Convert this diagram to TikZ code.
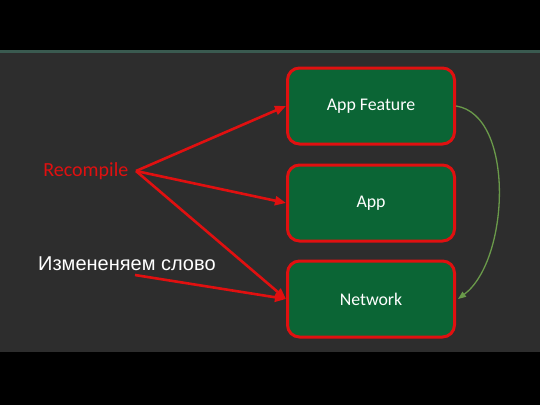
\documentclass[tikz,border=0pt]{standalone}
\usepackage{fontspec}
\setmainfont{Carlito}
\newfontfamily\arialfont{Liberation Sans}
\usetikzlibrary{arrows.meta}
\definecolor{panelgray}{HTML}{2D2D2D}
\definecolor{boxgreen}{HTML}{0B6535}
\definecolor{boxred}{HTML}{E01010}
\definecolor{linegreen}{HTML}{6A9A4A}
\definecolor{tealline}{HTML}{3A5A50}
\tikzset{
  box/.style={draw=boxred, line width=3pt, fill=boxgreen, rounded corners=12pt,
    minimum width=167pt, minimum height=76pt, text=white, font=\fontsize{17.8}{20}\selectfont},
  redarrow/.style={draw=boxred, line width=2.6pt, -{Triangle[length=11pt,width=9pt]}},
  greenarrow/.style={draw=linegreen, line width=1.3pt, -{Triangle[length=8pt,width=6pt]}}
}
\begin{document}
\begin{tikzpicture}[x=1pt,y=-1pt]
\useasboundingbox (0,0) rectangle (540,405);
\fill[black] (0,0) rectangle (540,405);
\fill[panelgray] (0,51) rectangle (540,352);
\fill[tealline] (0,50) rectangle (540,52.5);
\node[box] (feat) at (371,106) {App Feature};
\node[box] (app) at (371,203) {App};
\node[box] (net) at (371,299) {Network};
\node[text=boxred, font=\fontsize{20}{22}\selectfont, anchor=east, inner sep=0pt] (rec) at (128.5,171) {Recompile};
\coordinate (recp) at (136,171);
\node[text=white, font=\arialfont\fontsize{20}{22}\selectfont, anchor=west, inner sep=0pt] (izm) at (38,264) {Измененяем слово};
\coordinate (izmp) at (135,275);
\draw[redarrow] (recp) -- (feat.west);
\draw[redarrow] (recp) -- (app.west);
\draw[redarrow] (recp) -- (net.west);
\draw[redarrow] (izmp) -- (net.west);
\draw[greenarrow] (feat.east) .. controls (515,115) and (510,260) .. ([xshift=2pt]net.east);
\end{tikzpicture}
\end{document}
